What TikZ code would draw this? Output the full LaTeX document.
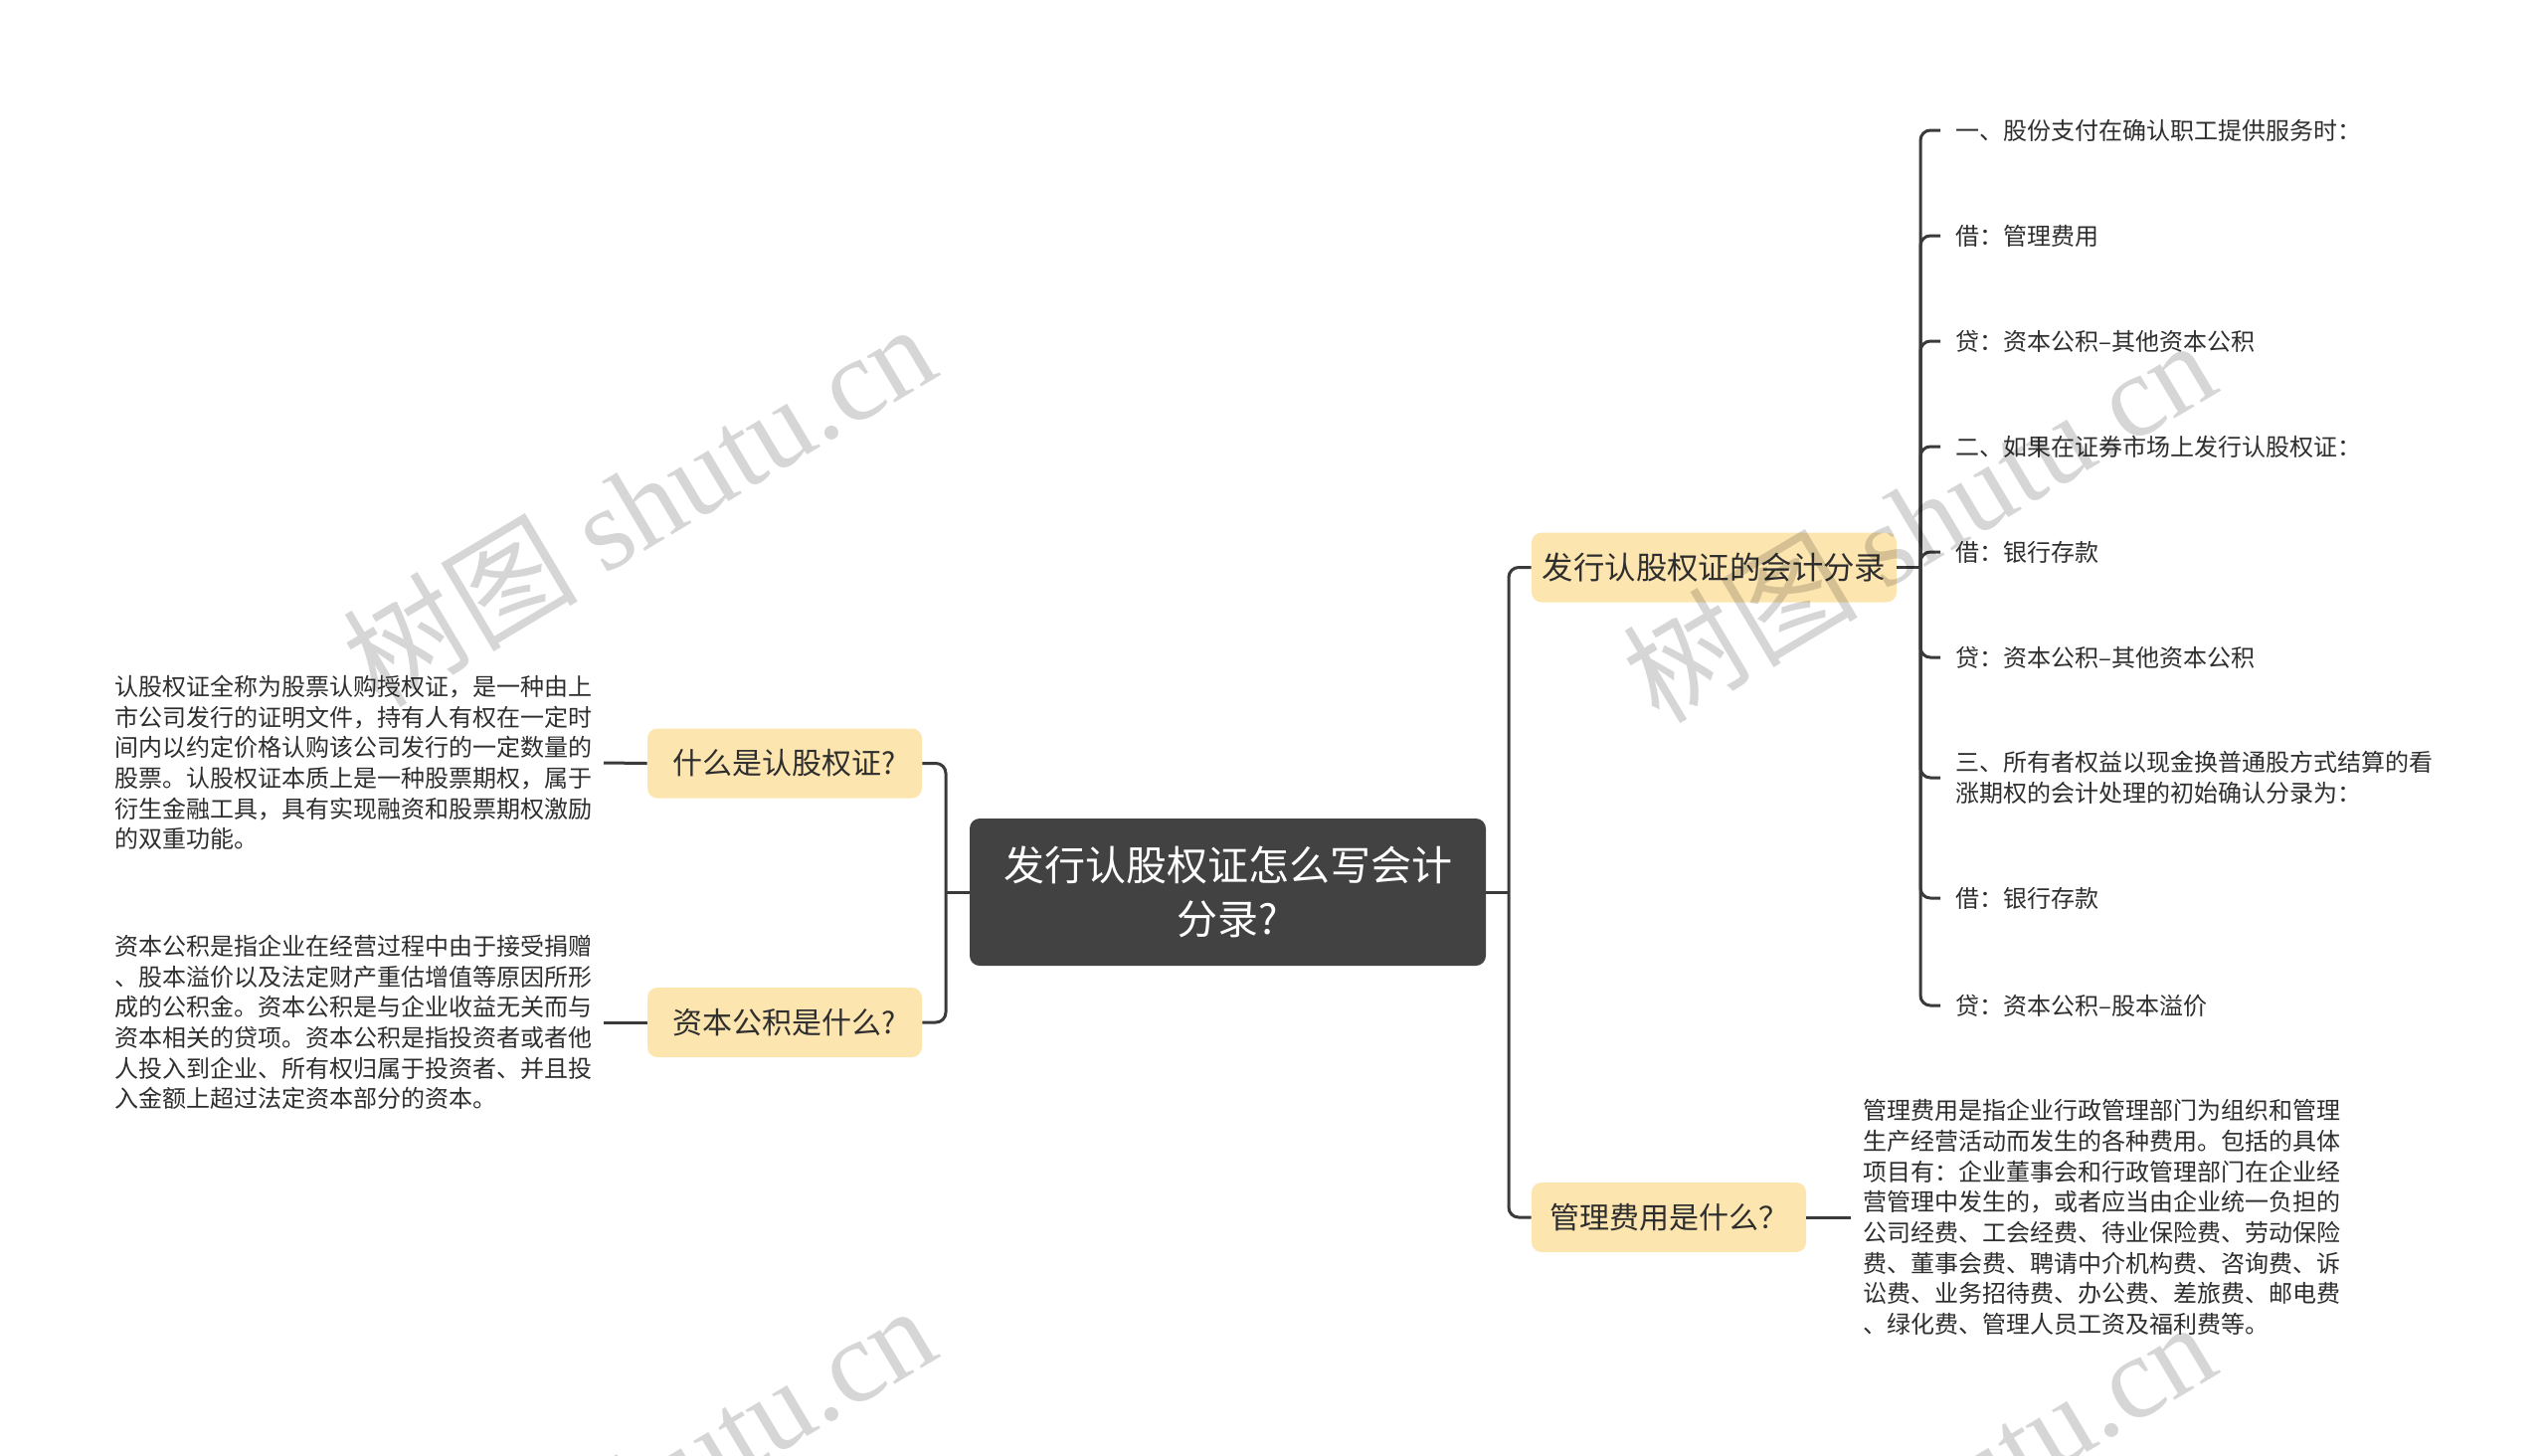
\documentclass[tikz,border=0pt]{standalone}
\usepackage{fontspec}
\setmainfont{Noto Sans CJK SC}
\newfontfamily\wmlatin{Liberation Serif}
\definecolor{lineC}{HTML}{3A3A3A}
\definecolor{rootC}{HTML}{424242}
\definecolor{topicC}{HTML}{FDE5B0}
\definecolor{txtC}{HTML}{2E2E2E}
\begin{document}
\begin{tikzpicture}[x=0.5pt,y=-0.5pt,
  root/.style={fill=rootC, rounded corners=5pt, text=white, align=center, minimum width=259.5pt, minimum height=74pt, inner sep=0pt, font=\fontsize{20.5pt}{27pt}\selectfont},
  topic/.style={fill=topicC, rounded corners=5pt, text=txtC, minimum height=35pt, inner sep=0pt, font=\fontsize{15pt}{18pt}\selectfont},
  para/.style={text=txtC, align=left, inner ysep=0pt, font=\fontsize{12pt}{15.35pt}\selectfont},
  leaf/.style={anchor=west, text=txtC, align=left, inner xsep=7.5pt, inner ysep=0pt, font=\fontsize{12pt}{15.5pt}\selectfont},
  conn/.style={draw=lineC, line width=1.5pt, rounded corners=5pt},
  wm/.style={rotate=30.8, text=black, text opacity=0.16, inner sep=0pt, font=\fontsize{59pt}{64pt}\selectfont}
]
\useasboundingbox (0,0) rectangle (2560,1463);
\clip (0,0) rectangle (2560,1463);

% central and main topics
\node[root] (c) at (1234.5,897) {发行认股权证怎么写会计\\分录?};
\node[topic, minimum width=138pt] (l1) at (789,767.5) {什么是认股权证?};
\node[topic, minimum width=138pt] (l2) at (789,1028) {资本公积是什么?};
\node[topic, minimum width=183.5pt, font=\fontsize{15.7pt}{18pt}\selectfont] (r1) at (1723.5,570.5) {发行认股权证的会计分录};
\node[topic, minimum width=138pt] (r2) at (1678,1224) {管理费用是什么？};

% paragraphs
\node[para, anchor=east, inner xsep=5.5pt] (p1) at (607,767) {认股权证全称为股票认购授权证，是一种由上\\市公司发行的证明文件，持有人有权在一定时\\间内以约定价格认购该公司发行的一定数量的\\股票。认股权证本质上是一种股票期权，属于\\衍生金融工具，具有实现融资和股票期权激励\\的双重功能。};
\node[para, anchor=east, inner xsep=5.5pt] (p2) at (607,1028) {资本公积是指企业在经营过程中由于接受捐赠\\、股本溢价以及法定财产重估增值等原因所形\\成的公积金。资本公积是与企业收益无关而与\\资本相关的贷项。资本公积是指投资者或者他\\人投入到企业、所有权归属于投资者、并且投\\入金额上超过法定资本部分的资本。};
\node[para, anchor=west, inner xsep=6pt] (p3) at (1861,1224) {管理费用是指企业行政管理部门为组织和管理\\生产经营活动而发生的各种费用。包括的具体\\项目有：企业董事会和行政管理部门在企业经\\营管理中发生的，或者应当由企业统一负担的\\公司经费、工会经费、待业保险费、劳动保险\\费、董事会费、聘请中介机构费、咨询费、诉\\讼费、业务招待费、办公费、差旅费、邮电费\\、绿化费、管理人员工资及福利费等。};

% leaves
\node[leaf] (a1) at (1951,131) {一、股份支付在确认职工提供服务时：};
\node[leaf] (a2) at (1951,237) {借：管理费用};
\node[leaf] (a3) at (1951,343) {贷：资本公积–其他资本公积};
\node[leaf] (a4) at (1951,449) {二、如果在证券市场上发行认股权证：};
\node[leaf] (a5) at (1951,555) {借：银行存款};
\node[leaf] (a6) at (1951,661) {贷：资本公积–其他资本公积};
\node[leaf] (a7) at (1951,782) {三、所有者权益以现金换普通股方式结算的看\\涨期权的会计处理的初始确认分录为：};
\node[leaf] (a8) at (1951,903) {借：银行存款};
\node[leaf] (a9) at (1951,1011) {贷：资本公积–股本溢价};

% junctions
\coordinate (jl) at (951,897);
\coordinate (jr) at (1517,897);
\coordinate (ja) at (1931,570.5);

% connectors
\draw[conn] (c.west) -- (jl);
\draw[conn] (l1.east) -| (jl);
\draw[conn] (l2.east) -| (jl);
\draw[conn] (c.east) -- (jr);
\draw[conn] (r1.west) -| (jr);
\draw[conn] (r2.west) -| (jr);
\draw[conn] (p1.east) -- (l1.west);
\draw[conn] (p2.east) -- (l2.west);
\draw[conn] (r2.east) -- (p3.west);
\draw[conn] (r1.east) -- (ja);
\foreach \n in {a1,a2,a3,a4,a5,a6,a7,a8,a9}{
  \draw[conn] (\n.west) -| (ja);
}

% watermarks
\node[wm] (w1) at (642,506) {树图 {\wmlatin shutu.cn}};
\node[wm] (w2) at (1929,522) {树图 {\wmlatin shutu.cn}};
\node[wm] (w3) at (642,1493) {树图 {\wmlatin shutu.cn}};
\node[wm] (w4) at (1929,1509) {树图 {\wmlatin shutu.cn}};
\end{tikzpicture}
\end{document}
